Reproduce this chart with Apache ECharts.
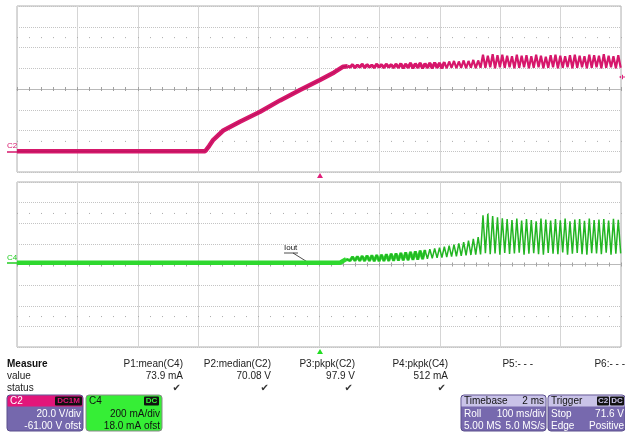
<!DOCTYPE html>
<html><head><meta charset="utf-8">
<script src="https://cdn.jsdelivr.net/npm/echarts@6/dist/echarts.min.js"></script>
<style>html,body{margin:0;padding:0;background:#fff}#c{width:625px;height:433px}</style>
</head><body><div id="c"></div><script>
// ---- axes (time in ms, C2 in V, C4 in mA) ----
const timeRange = [-10, 10];
const timeDiv = 2;
const timeMinor = 0.4;
const c2Range = [-20, 140];
const c2Div = 20;
const c4Range = [-800, 800];
const c4Div = 200;

// ---- C2 (output voltage) ----
const c2RampTime = [-10, -3.77, -3.64, -3.5, -3.17, -2.62, -1.95, -1.29, -0.63, 0.03, 0.5, 0.8, 0.95];
const c2RampVolt = [0, 0, 5, 11, 20, 28.5, 38, 49, 59, 68.7, 76, 81.5, 82];
const c2RippleStart = 0.95;
const rippleHalfPeriod = 0.08;
const c2RipplePeaks = [83, 83.5, 83, 84, 83.5, 83, 84, 83.5, 84, 83.5,
  84, 84.5, 84, 85, 84.5, 85, 84.5, 85, 85.5, 85,
  86, 86.5, 87, 86.5, 87.5, 87, 88, 87.5,
  93, 92, 93.5, 92.5, 93, 92, 91.5, 93, 92, 92.5, 91.5, 93, 92, 91, 92.5, 93, 92, 91.5, 92.5, 93, 92, 91.5, 93, 92.5, 92, 93.5, 92, 91.5, 92.5];
const c2RippleTroughs = [81, 80.5, 81, 80.5, 81, 80.5, 81, 80.5, 81, 80.5,
  80.5, 80, 80.5, 80, 80.5, 80, 80.5, 80, 80.5, 80,
  80, 80.5, 80, 80.5, 80, 80.5, 80, 80.5,
  80.5, 81, 80, 81, 80.5, 81, 80, 80.5, 81, 80, 80.5, 81, 80, 80.5, 81, 80, 80.5, 81, 80, 80.5, 81, 80, 80.5, 81, 80, 80.5, 81, 80, 80.5];

// ---- C4 (output current) ----
const c4BaseTime = [-10, 0.7, 0.8, 0.9];
const c4BaseCurr = [17, 17, 35, 52];
const c4OscStart = 0.95;
const c4OscPeaks = [70, 74, 78, 82, 85, 88, 92, 95, 100, 104,
  108, 112, 118, 122, 128, 134, 140, 148, 155, 162,
  172, 182, 192, 205, 218, 232, 248, 265,
  478, 492, 470, 458, 448, 440, 432, 445, 425, 440, 430, 418, 445, 435, 425, 440, 428, 446, 420, 436, 441, 424, 445, 430, 436, 440, 425, 444, 434];
const c4OscTroughs = [38, 36, 35, 34, 34, 33, 33, 34, 35, 36,
  38, 40, 42, 45, 48, 52, 56, 60, 64, 68,
  72, 76, 80, 84, 88, 92, 95, 98,
  110, 100, 108, 95, 112, 102, 106, 115, 96, 104, 110, 100, 94, 112, 105, 99, 116, 96, 104, 111, 100, 95, 110, 106, 99, 114, 96, 105, 108];

// ---- measurement table ----
const measureNames = ['P1:mean(C4)', 'P2:median(C2)', 'P3:pkpk(C2)', 'P4:pkpk(C4)', 'P5:- - -', 'P6:- - -'];
const measureValues = ['73.9 mA', '70.08 V', '97.9 V', '512 mA', '', ''];
const measureStatus = ['\u2714', '\u2714', '\u2714', '\u2714', '', ''];

function zip(xs, ys) { return xs.map((x, i) => [x, ys[i]]); }
function zigzag(t0, half, peaks, troughs) {
  const out = [];
  for (let i = 0; i < peaks.length; i++) {
    out.push([t0 + 2 * i * half, peaks[i]]);
    out.push([t0 + (2 * i + 1) * half, troughs[i]]);
  }
  return out;
}
const c2Main = zip(c2RampTime, c2RampVolt);
const c2Ripple = [[c2RampTime[c2RampTime.length - 1], c2RampVolt[c2RampVolt.length - 1]]].concat(zigzag(c2RippleStart, rippleHalfPeriod, c2RipplePeaks, c2RippleTroughs));
const c2RippleEarly = c2Ripple.slice(0, 42);
const c4Base = zip(c4BaseTime, c4BaseCurr);
const c4Osc = [[c4BaseTime[c4BaseTime.length - 1], c4BaseCurr[c4BaseCurr.length - 1]]].concat(zigzag(c4OscStart, rippleHalfPeriod, c4OscPeaks, c4OscTroughs));
const c4OscEarly = c4Osc.slice(0, 34);

const MAG = '#d6176b', GRN = '#2fd82f';
const FONT = '"Liberation Sans", Arial, sans-serif';
const hid = { axisLine: { show: false }, axisTick: { show: false }, axisLabel: { show: false }, splitLine: { show: false } };

function mainX(g) {
  return { gridIndex: g, type: 'value', min: timeRange[0], max: timeRange[1], interval: timeDiv,
    axisLine: { show: false, onZero: false }, axisTick: { show: false }, axisLabel: { show: false },
    splitLine: { show: true, lineStyle: { color: '#d5d5d5', width: 1, type: 'solid' } } };
}
function tickX(g, yIdx, inside, showLine, len, color) {
  return { gridIndex: g, type: 'value', min: timeRange[0], max: timeRange[1], interval: timeMinor,
    axisLine: { show: showLine, onZero: true, onZeroAxisIndex: yIdx, lineStyle: { color: '#b9b9b9', width: 1 } },
    axisTick: { show: true, inside: inside, length: len, lineStyle: { color: color, width: 1 } },
    axisLabel: { show: false }, splitLine: { show: false } };
}
function helperY(g, mn, mx) { return Object.assign({ gridIndex: g, type: 'value', min: mn, max: mx }, hid); }

const xAxes = [mainX(0), mainX(1),
  tickX(0, 2, false, true, 2, '#a0a0a0'), tickX(0, 2, true, true, 2, '#a0a0a0'),
  tickX(1, 3, false, true, 2, '#a0a0a0'), tickX(1, 3, true, true, 2, '#a0a0a0'),
  tickX(0, 4, true, false, 1, '#aaaaaa'), tickX(0, 5, true, false, 1, '#aaaaaa'),
  tickX(1, 6, true, false, 1, '#aaaaaa'), tickX(1, 7, true, false, 1, '#aaaaaa')];
const yAxes = [
  { gridIndex: 0, type: 'value', min: c2Range[0], max: c2Range[1], interval: c2Div, axisLine: { show: false }, axisTick: { show: false }, axisLabel: { show: false },
    splitLine: { show: true, lineStyle: { color: '#c4c4c4', width: 1, type: [1, 1] } } },
  { gridIndex: 1, type: 'value', min: c4Range[0], max: c4Range[1], interval: c4Div, axisLine: { show: false }, axisTick: { show: false }, axisLabel: { show: false },
    splitLine: { show: true, lineStyle: { color: '#c4c4c4', width: 1, type: [1, 1] } } },
  helperY(0, -4, 4), helperY(1, -4, 4),
  helperY(0, -6.5, 1.5), helperY(0, -1.5, 6.5),
  helperY(1, -6.5, 1.5), helperY(1, -1.5, 6.5)];

function line(data, xi, yi, color, w, z, op) {
  return { type: 'line', data: data, xAxisIndex: xi, yAxisIndex: yi, showSymbol: false, symbol: 'none', silent: true, z: z || 3,
    lineStyle: { color: color, width: w, opacity: op == null ? 1 : op }, emphasis: { disabled: true } };
}

function T(text, x, y, o) {
  o = o || {};
  return { type: 'text', silent: true, z: 10, style: { text: text, x: x, y: y, fill: o.fill || '#222', font: o.font || ('10px ' + FONT), align: o.align || 'left', verticalAlign: 'middle' } };
}
function R(x, y, w, h, fill, r, stroke) {
  return { type: 'rect', silent: true, z: 9, shape: { x: x, y: y, width: w, height: h, r: r || 0 }, style: { fill: fill, stroke: stroke || null, lineWidth: stroke ? 1 : 0 } };
}

const g = [];
g.push(T('C2', 7, 146, { fill: MAG, font: '8px ' + FONT }));
g.push({ type: 'line', silent: true, shape: { x1: 7, y1: 152, x2: 17, y2: 152 }, style: { stroke: MAG, lineWidth: 1.5 } });
g.push(T('C4', 7, 258, { fill: '#22cc22', font: '8px ' + FONT }));
g.push({ type: 'line', silent: true, shape: { x1: 7, y1: 263, x2: 17, y2: 263 }, style: { stroke: '#22cc22', lineWidth: 1.5 } });
g.push({ type: 'polygon', silent: true, shape: { points: [[317, 178], [323, 178], [320, 173]] }, style: { fill: '#e0207a' } });
g.push({ type: 'polygon', silent: true, shape: { points: [[317, 354], [323, 354], [320, 349]] }, style: { fill: '#22dd22' } });
g.push({ type: 'polygon', silent: true, shape: { points: [[619, 77], [623, 74.5], [623, 79.5]] }, style: { fill: '#e0207a' } });
g.push({ type: 'line', silent: true, shape: { x1: 622, y1: 77, x2: 625, y2: 77 }, style: { stroke: '#e0207a', lineWidth: 1 } });
g.push(T('Iout', 284, 248, { font: '8px ' + FONT, fill: '#111' }));
g.push({ type: 'line', silent: true, shape: { x1: 284, y1: 253, x2: 298, y2: 253 }, style: { stroke: '#222', lineWidth: 0.8 } });
g.push({ type: 'line', silent: true, shape: { x1: 293, y1: 253, x2: 309, y2: 263 }, style: { stroke: '#222', lineWidth: 0.8 } });

g.push(T('Measure', 7, 364, { font: 'bold 10px ' + FONT, fill: '#111' }));
g.push(T('value', 7, 376));
g.push(T('status', 7, 388));
const colRight = [183, 271, 355, 448, 533, 625];
measureNames.forEach((n, i) => {
  g.push(T(n, colRight[i], 364, { align: 'right' }));
  if (measureValues[i]) g.push(T(measureValues[i], colRight[i], 376, { align: 'right' }));
  if (measureStatus[i]) g.push(T(measureStatus[i], colRight[i] - 2, 388, { align: 'right', font: '10px "DejaVu Sans", sans-serif', fill: '#333' }));
});

g.push(R(7, 395, 76, 36, '#7568ad', 3, '#5a4f8c'));
g.push(R(7.5, 395.5, 75, 11, '#e2157a', [3, 3, 0, 0]));
g.push(T('C2', 10, 401, { fill: '#fff' }));
g.push(R(55, 396.5, 27, 9, '#111', 1));
g.push(T('DC1M', 68.5, 401, { fill: '#e2157a', font: 'bold 8px ' + FONT, align: 'center' }));
g.push(T('20.0 V/div', 81, 414, { fill: '#fff', align: 'right' }));
g.push(T('-61.00 V ofst', 81, 426, { fill: '#fff', align: 'right' }));
g.push(R(86, 395, 76, 36, '#36ee36', 3, '#8a8a8a'));
g.push(T('C4', 89, 401, { fill: '#111' }));
g.push(R(144, 396.5, 15, 9, '#111', 1));
g.push(T('DC', 151.5, 401, { fill: '#36ee36', font: 'bold 8px ' + FONT, align: 'center' }));
g.push(T('200 mA/div', 160, 414, { fill: '#111', align: 'right' }));
g.push(T('18.0 mA ofst', 160, 426, { fill: '#111', align: 'right' }));
g.push(R(461, 395, 85, 36, '#7769ae', 3, '#5a4f8c'));
g.push(R(461.5, 395.5, 84, 11, '#c9c3e8', [3, 3, 0, 0]));
g.push(T('Timebase', 464, 401, { fill: '#111' }));
g.push(T('2 ms', 544, 401, { fill: '#111', align: 'right' }));
g.push(T('Roll', 464, 414, { fill: '#fff' }));
g.push(T('100 ms/div', 545, 414, { fill: '#fff', align: 'right' }));
g.push(T('5.00 MS', 464, 426, { fill: '#fff' }));
g.push(T('5.0 MS/s', 545, 426, { fill: '#fff', align: 'right' }));
g.push(R(548, 395, 77, 36, '#7769ae', 3, '#5a4f8c'));
g.push(R(548.5, 395.5, 76, 11, '#c9c3e8', [3, 3, 0, 0]));
g.push(T('Trigger', 551, 401, { fill: '#111' }));
g.push(R(597, 396.5, 12, 9, '#111', 1));
g.push(T('C2', 603, 401, { fill: '#c9c3e8', font: 'bold 8px ' + FONT, align: 'center' }));
g.push(R(610, 396.5, 14, 9, '#111', 1));
g.push(T('DC', 617, 401, { fill: '#c9c3e8', font: 'bold 8px ' + FONT, align: 'center' }));
g.push(T('Stop', 551, 414, { fill: '#fff' }));
g.push(T('71.6 V', 624, 414, { fill: '#fff', align: 'right' }));
g.push(T('Edge', 551, 426, { fill: '#fff' }));
g.push(T('Positive', 624, 426, { fill: '#fff', align: 'right' }));

const option = {
  animation: false,
  backgroundColor: '#ffffff',
  grid: [
    { left: 17, top: 6, width: 604, height: 166, show: true, borderColor: '#b0b0b0', borderWidth: 1, backgroundColor: '#fff' },
    { left: 17, top: 182, width: 604, height: 165, show: true, borderColor: '#b0b0b0', borderWidth: 1, backgroundColor: '#fff' }
  ],
  xAxis: xAxes,
  yAxis: yAxes,
  series: [
    line(c2Main, 0, 0, MAG, 4.5, 4),
    line(c2Main, 0, 0, '#a30f50', 1, 5, 0.55),
    line(c2RippleEarly, 0, 0, MAG, 3, 4),
    line(c2Ripple, 0, 0, MAG, 2.2, 4),
    line(c4Base, 1, 1, GRN, 4.5, 4),
    line(c4OscEarly, 1, 1, GRN, 3, 4),
    line(c4Osc, 1, 1, '#22b522', 1.5, 5)
  ],
  graphic: { elements: g }
};
const chart = echarts.init(document.getElementById('c'), null, { renderer: 'canvas' });
chart.setOption(option);
</script></body></html>
